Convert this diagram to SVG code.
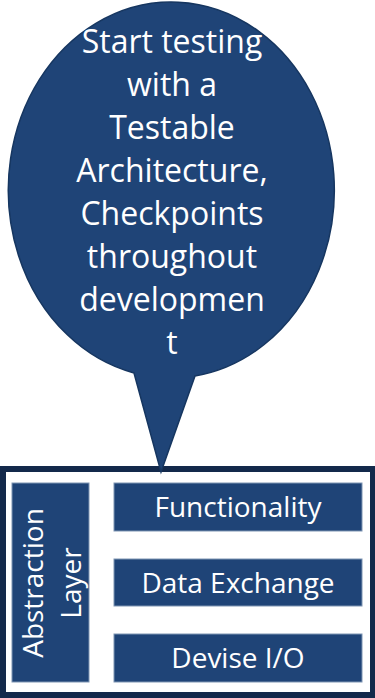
<svg xmlns="http://www.w3.org/2000/svg" width="375" height="698" viewBox="0 0 375 698">
<style>
.box{fill:#1F4477;stroke:#7F95B3;stroke-width:1}
.t{font-family:"Open Sans","Noto Sans",sans-serif;fill:#FFFFFF;text-anchor:middle}
.big{font-size:32px}
.mid{font-size:28px}
</style>
<rect width="375" height="698" fill="#FFFFFF"/>
<g id="container">
<rect x="0" y="466" width="375" height="232" fill="#13294B"/>
<rect x="6" y="472" width="364" height="220" fill="#FFFFFF"/>
</g>
<g id="callout">
<path d="M134,373 A163,188 0 1 1 195,376 L161,472 Z" fill="#1F4477" stroke="#163660" stroke-width="1.5"/>
<text class="t big" x="172" y="53">Start testing</text>
<text class="t big" x="172" y="96">with a</text>
<text class="t big" x="172" y="139">Testable</text>
<text class="t big" x="172" y="182">Architecture,</text>
<text class="t big" x="172" y="225">Checkpoints</text>
<text class="t big" x="172" y="268">throughout</text>
<text class="t big" x="172" y="311">developmen</text>
<text class="t big" x="172" y="354">t</text>
</g>
<g id="abstraction">
<rect class="box" x="12" y="483" width="77" height="199"/>
<text class="t mid" transform="translate(43,583) rotate(-90)">Abstraction</text>
<text class="t mid" transform="translate(81,583) rotate(-90)">Layer</text>
</g>
<g id="functionality">
<rect class="box" x="114" y="483" width="248" height="48"/>
<text class="t mid" x="238" y="517">Functionality</text>
</g>
<g id="dataexchange">
<rect class="box" x="114" y="559" width="248" height="47"/>
<text class="t mid" x="238" y="593">Data Exchange</text>
</g>
<g id="deviseio">
<rect class="box" x="114" y="634" width="248" height="48"/>
<text class="t mid" x="238" y="668">Devise I/O</text>
</g>
<g id="connectors"></g>
</svg>
